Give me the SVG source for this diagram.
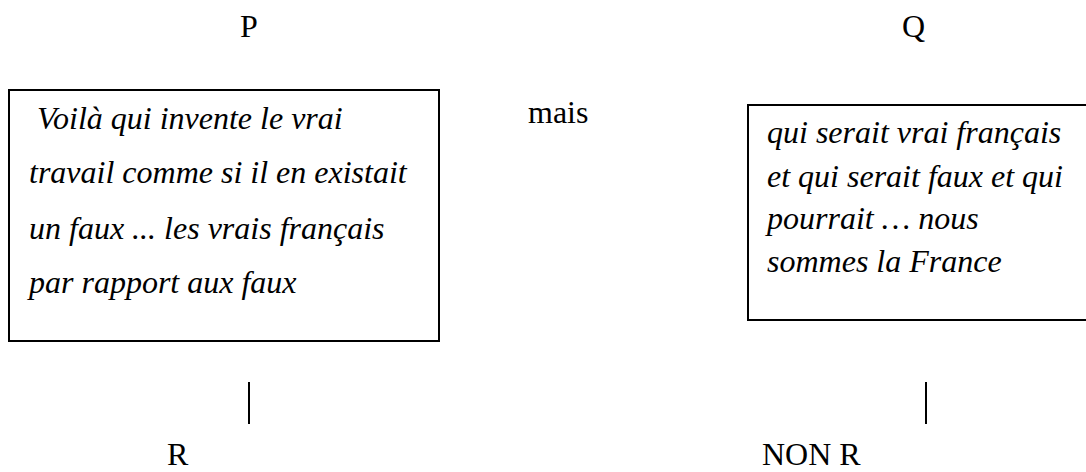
<svg xmlns="http://www.w3.org/2000/svg" width="1086" height="472" viewBox="0 0 1086 472">
<style>
text{font-family:'Liberation Serif',Tinos,'Times New Roman',Times,'DejaVu Serif','Noto Serif',serif;font-size:32px;fill:#000}
.it{font-style:italic}
.box{fill:#fff;stroke:#000;stroke-width:2}
.conn{stroke:#000;stroke-width:2}
</style>
<rect width="1086" height="472" fill="#fff"/>
<g id="label-P"><text x="240" y="37">P</text></g>
<g id="label-Q"><text x="902" y="37">Q</text></g>
<g id="label-mais"><text x="528" y="123">mais</text></g>
<g id="node-left">
<rect class="box" x="9" y="90" width="430" height="251"/>
<text class="it" x="37" y="129">Voilà qui invente le vrai</text>
<text class="it" x="29" y="183">travail comme si il en existait</text>
<text class="it" x="29" y="239">un faux ... les vrais français</text>
<text class="it" x="29" y="293">par rapport aux faux</text>
</g>
<g id="node-right">
<rect class="box" x="748" y="105" width="345" height="215"/>
<text class="it" x="767" y="143">qui serait vrai français</text>
<text class="it" x="767" y="187">et qui serait faux et qui</text>
<text class="it" x="767" y="229">pourrait … nous</text>
<text class="it" x="767" y="272">sommes la France</text>
</g>
<g id="connectors">
<line class="conn" x1="249" y1="382" x2="249" y2="424"/>
<line class="conn" x1="926" y1="382" x2="926" y2="424"/>
</g>
<g id="label-R"><text x="167" y="465">R</text></g>
<g id="label-NONR"><text x="762" y="465">NON R</text></g>
</svg>
